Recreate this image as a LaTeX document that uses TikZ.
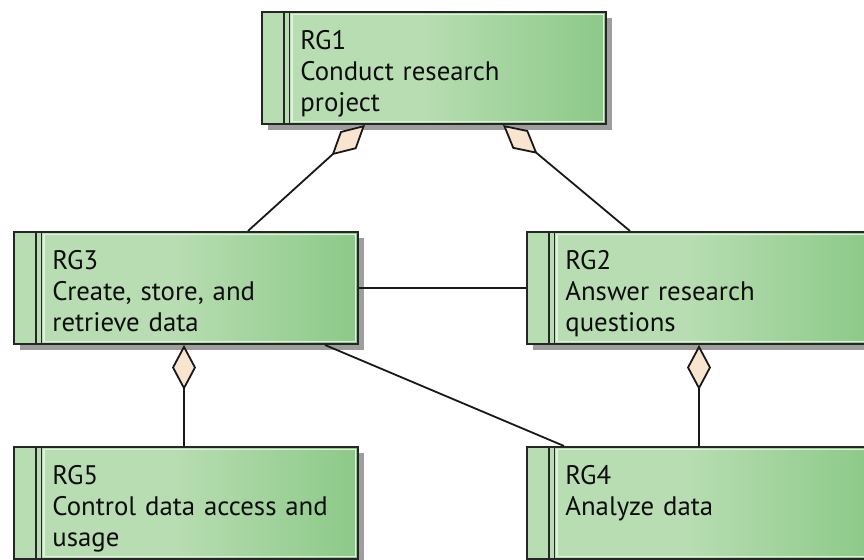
\documentclass[tikz,border=0pt]{standalone}
\usepackage{fontspec}
\setmainfont{PT Sans}
\usetikzlibrary{positioning, arrows.meta, shadows}

\definecolor{rglight}{RGB}{184,221,178}
\definecolor{rgdark}{RGB}{140,201,136}
\definecolor{rgdiamond}{RGB}{249,229,207}
\pgfdeclarehorizontalshading{rgshade}{100bp}{color(0bp)=(rglight); color(48bp)=(rglight); color(75bp)=(rgdark); color(100bp)=(rgdark)}

\begin{document}
\begin{tikzpicture}[
    rgbox/.style={draw=black!85, line width=1pt, minimum width=172pt, minimum height=56pt, inner sep=0pt,
        shade, shading=rgshade,
        drop shadow={shadow xshift=2.8pt, shadow yshift=-3pt, fill=black!38, opacity=1},
        path picture={
            \draw[white!55!rglight, line width=0.6pt] ([xshift=15pt,yshift=-1.4pt]path picture bounding box.north west) rectangle ([xshift=-1.4pt,yshift=1.4pt]path picture bounding box.south east);
            \draw[black!85, line width=0.7pt] ([xshift=11pt]path picture bounding box.north west) -- ([xshift=11pt]path picture bounding box.south west);
            \draw[black!85, line width=0.7pt] ([xshift=13.6pt]path picture bounding box.north west) -- ([xshift=13.6pt]path picture bounding box.south west);
        }},
    rgtext/.style={anchor=north west, inner sep=0pt, text width=150pt, align=left, text height=10pt, text=black!95,
        font=\fontsize{13.4}{15.5}\selectfont},
    assoc/.style={draw=black!90, line width=0.9pt},
    aggr/.style={assoc, -{Diamond[length=22.5pt, width=12pt, fill=rgdiamond, line width=0.9pt]}}
]

    \useasboundingbox (0pt,0pt) rectangle (432pt,-280pt);

    % Goal boxes
    \node[rgbox] (rg1) at (217pt,-34pt) {};
    \node[rgbox] (rg3) at (93pt,-144pt) {};
    \node[rgbox, right=83.5pt of rg3] (rg2) {};
    \node[rgbox, below=50.5pt of rg3] (rg5) {};
    \node[rgbox, below=50.5pt of rg2] (rg4) {};

    % Goal texts
    \node[rgtext] (rg1t) at ([xshift=19.5pt,yshift=-9pt]rg1.north west) {RG1\\Conduct research\\project};
    \node[rgtext] (rg3t) at ([xshift=19.5pt,yshift=-9pt]rg3.north west) {RG3\\Create, store, and\\retrieve data};
    \node[rgtext] (rg2t) at ([xshift=19.5pt,yshift=-9pt]rg2.north west) {RG2\\Answer research\\questions};
    \node[rgtext] (rg5t) at ([xshift=19.5pt,yshift=-9pt]rg5.north west) {RG5\\Control data access and\\usage};
    \node[rgtext] (rg4t) at ([xshift=19.5pt,yshift=-9pt]rg4.north west) {RG4\\Analyze data};

    % Aggregations
    \draw[aggr] ([xshift=31pt]rg3.north) -- ([xshift=-34.5pt]rg1.south);
    \draw[aggr] ([xshift=-34.5pt]rg2.north) -- ([xshift=34.5pt]rg1.south);
    \draw[aggr] ([xshift=-1pt]rg5.north) -- ([xshift=-1pt]rg3.south);
    \draw[aggr] (rg4) -- (rg2);

    % Associations
    \draw[assoc] (rg3) -- (rg2);
    \draw[assoc] ([xshift=69.5pt]rg3.south) -- ([xshift=-67.5pt]rg4.north);

\end{tikzpicture}
\end{document}
